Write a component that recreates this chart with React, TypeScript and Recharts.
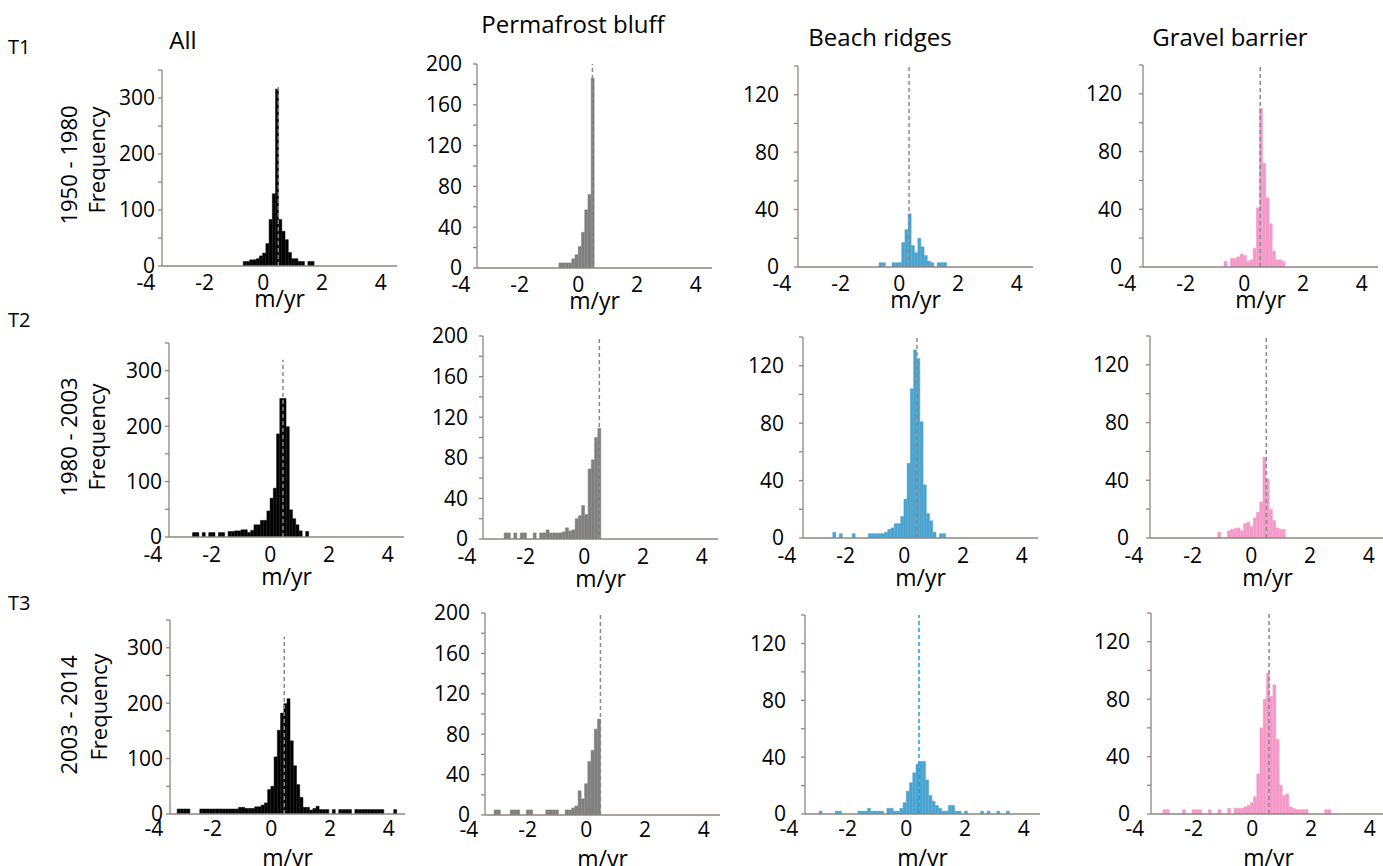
import { BarChart, Bar, XAxis, YAxis, ReferenceLine } from "recharts";

const FONT = '"Open Sans", "Noto Sans", sans-serif';
const AXIS_COLOR = "#8e8681";
const DASH_COLOR = "#8a8a8a";

// histogram bins (m/yr)
const BIN_W = 0.11;
const X_DOMAIN = [-3.45, 4.55];
const X_TICKS = [-2.5, -1.5, -0.5, 0.5, 1.5, 2.5, 3.5, 4.5];
const X_LABELS = [-4, -2, 0, 2, 4];

const COLUMN_TITLES = ["All", "Permafrost bluff", "Beach ridges", "Gravel barrier"];
const ROW_TAGS = ["T1", "T2", "T3"];
const PERIODS = ["1950 - 1980", "1980 - 2003", "2003 - 2014"];
const BAR_COLORS = ["#000000", "#7f7f7f", "#4ba3cf", "#f59ac8"];

const Y_TICKS_ALL = [0, 50, 100, 150, 200, 250, 300, 350];
const Y_LABELS_ALL = [0, 100, 200, 300];
const Y_TICKS_BLUFF = [0, 20, 40, 60, 80, 100, 120, 140, 160, 180, 200];
const Y_LABELS_BLUFF = [0, 40, 80, 120, 160, 200];
const Y_TICKS_SMALL = [0, 20, 40, 60, 80, 100, 120, 140];
const Y_LABELS_SMALL = [0, 40, 80, 120];

// mean rate (dashed line) per panel
const MEANS_T1 = [0.51, 0.48, 0.33, 0.54];
const MEANS_T2 = [0.43, 0.51, 0.43, 0.51];
const MEANS_T3 = [0.44, 0.48, 0.43, 0.57];

// T1 1950-1980: left edge of first bin + counts
const allT1Start = -0.684;
const allT1 = [8, 8, 11, 11, 13, 18, 23, 40, 83, 129, 316, 83, 62, 47, 24, 13, 13, 8, 8, 0, 8, 8];
const bluffT1Start = -0.663;
const bluffT1 = [5, 5, 5, 5, 9, 13, 21, 35, 57, 72, 186];
const beachT1Start = -0.69;
const beachT1 = [3, 3, 0, 0, 3, 3, 3, 17, 26, 37, 15, 10, 20, 14, 8, 4, 3, 0, 3, 3, 3];
const gravelT1Start = -0.693;
const gravelT1 = [4, 0, 6, 6, 7, 9, 8, 4, 5, 13, 41, 110, 72, 48, 30, 11, 5, 5, 4];

// T2 1980-2003
const allT2Start = -2.648;
const allT2 = [8, 8, 0, 8, 0, 8, 8, 0, 8, 8, 0, 10, 10, 11, 11, 13, 13, 8, 12, 22, 22, 30, 30, 47, 70, 88, 186, 250, 250, 199, 49, 33, 22, 11, 0, 10];
const bluffT2Start = -2.732;
const bluffT2 = [6, 6, 0, 6, 0, 6, 6, 0, 0, 6, 0, 6, 6, 9, 6, 6, 6, 6, 7, 11, 8, 9, 20, 23, 33, 24, 69, 78, 100, 109];
const beachT2Start = -2.435;
const beachT2 = [4, 0, 3, 0, 0, 0, 3, 0, 0, 0, 0, 3, 3, 3, 3, 3, 4, 6, 7, 10, 10, 15, 27, 52, 104, 131, 125, 81, 37, 17, 12, 4, 0, 3, 3];
const gravelT2Start = -1.145;
const gravelT2 = [4, 0, 0, 5, 6, 6.5, 7, 5, 10, 11, 8, 14, 18, 25, 56, 41, 20, 12, 7, 6, 6];

// T3 2003-2014
const allT3Start = -3.206;
const allT3 = [9, 9, 9, 9, 0, 0, 0, 9, 9, 9, 9, 9, 9, 9, 9, 9, 9, 9, 9, 12, 12, 10, 10, 10, 13, 13, 16, 20, 44, 50, 103, 151, 182, 199, 208, 132, 87, 53, 30, 12, 12, 7, 10, 14, 8, 8, 8, 0, 8, 0, 8, 8, 8, 8, 0, 8, 8, 8, 8, 8, 8, 8, 8, 8, 0, 0, 0, 8];
const bluffT3Start = -3.14;
const bluffT3 = [5, 5, 0, 0, 0, 5, 5, 5, 0, 0, 5, 5, 0, 0, 0, 0, 5, 5, 5, 5, 0, 0, 5, 5, 7, 9, 24, 16, 31, 53, 64, 85, 95];
const beachT3Start = -2.972;
const beachT3 = [2, 0, 0, 0, 0, 2, 2, 0, 0, 0, 0, 0, 2, 2, 2, 4, 2, 2, 2, 2, 0, 4, 4, 2, 2, 4, 8, 16, 22, 29, 35, 37, 37, 24, 13, 9, 6, 4, 2, 2, 6, 6, 2, 2, 0, 2, 0, 0, 0, 0, 2, 0, 2, 0, 0, 2, 0, 0, 2];
const gravelT3Start = -3.041;
const gravelT3 = [3, 3, 0, 0, 0, 0, 3, 0, 0, 3, 3, 3, 0, 0, 3, 0, 0, 3, 0, 0, 4, 0, 4, 4, 4, 5, 6, 8, 12, 28, 60, 80, 98, 82, 90, 52, 20, 13, 14, 5, 4, 3, 3, 3, 3, 0, 0, 0, 0, 0, 3, 3];

// layout (page pixels): y-axis x, plot top, x-axis baseline
const AXIS_X = [[162, 477, 798, 1143], [169, 483, 803, 1150], [170, 485, 805, 1151]];
const PLOT_TOP = [[70, 64, 66, 65], [343, 336, 337, 336], [620, 613, 615, 613]];
const PLOT_BASE = [[266, 268, 267, 267], [537, 539, 538, 538], [814, 815, 814, 814]];
const X_TICK_MARGIN = [4, 5, 2];
const MYR_BELOW = [41, 48, 52];
const Y_TICK_MARGIN = [3, 11, 15, 17];

const PLOT_W = 235;
const Y_AXIS_W = 70;
const M_TOP = 18;
const M_RIGHT = 12;
const M_BOTTOM = 12;
const X_MAIN_H = 5;

type PanelProps = {
  row: number;
  col: number;
  start: number;
  counts: number[];
  mean: number;
};

function Panel({ row, col, start, counts, mean }: PanelProps) {
  const axisX = AXIS_X[row][col];
  const top = PLOT_TOP[row][col];
  const base = PLOT_BASE[row][col];
  const plotH = base - top;
  const labelH = MYR_BELOW[row] - X_MAIN_H;
  const height = M_TOP + plotH + X_MAIN_H + labelH + M_BOTTOM;

  const yTicks = col === 0 ? Y_TICKS_ALL : col === 1 ? Y_TICKS_BLUFF : Y_TICKS_SMALL;
  const yLabels = col === 0 ? Y_LABELS_ALL : col === 1 ? Y_LABELS_BLUFF : Y_LABELS_SMALL;
  const yMax = yTicks[yTicks.length - 1];

  const data = counts.map((n, i) => ({ x: +(start + (i + 0.5) * BIN_W).toFixed(4), n }));
  const dashColor = row === 2 && col === 2 ? "#1f9fd6" : DASH_COLOR;

  return (
    <div style={{ position: "absolute", left: axisX - Y_AXIS_W, top: top - M_TOP }}>
      <BarChart
        width={Y_AXIS_W + PLOT_W + M_RIGHT}
        height={height}
        data={data}
        barCategoryGap={0}
        barGap={0}
        margin={{ top: M_TOP, right: M_RIGHT, left: 0, bottom: M_BOTTOM }}
      >
        <XAxis
          xAxisId="bins"
          dataKey="x"
          type="number"
          domain={X_DOMAIN}
          ticks={X_TICKS}
          interval={0}
          allowDataOverflow
          tick={false}
          tickSize={5}
          height={X_MAIN_H}
          axisLine={{ stroke: AXIS_COLOR, strokeWidth: 1.3 }}
          tickLine={{ stroke: AXIS_COLOR, strokeWidth: 1.3 }}
        />
        <XAxis
          xAxisId="labels"
          dataKey="x"
          type="number"
          domain={X_DOMAIN}
          ticks={X_LABELS}
          interval={0}
          allowDataOverflow
          axisLine={false}
          tickLine={false}
          tickSize={0}
          tickMargin={X_TICK_MARGIN[row]}
          height={labelH}
          tick={{ fill: "#000", fontSize: 21, fontFamily: FONT }}
          label={{ value: "m/yr", position: "insideBottom", offset: 0, fill: "#000", fontSize: 23, fontFamily: FONT }}
        />
        <YAxis
          type="number"
          domain={[0, yMax]}
          ticks={yTicks}
          interval={0}
          allowDataOverflow
          width={Y_AXIS_W}
          tickSize={4}
          tickMargin={Y_TICK_MARGIN[col]}
          axisLine={{ stroke: AXIS_COLOR, strokeWidth: 1.3 }}
          tickLine={{ stroke: AXIS_COLOR, strokeWidth: 1.3 }}
          tickFormatter={(v: number) => (yLabels.includes(v) ? String(v) : "")}
          tick={{ fill: "#000", fontSize: 21, fontFamily: FONT }}
        />
        <Bar
          xAxisId="bins"
          dataKey="n"
          fill={BAR_COLORS[col]}
          stroke={BAR_COLORS[col]}
          strokeWidth={0.5}
          isAnimationActive={false}
        />
        {col === 0 ? (
          <ReferenceLine
            xAxisId="bins"
            segment={[{ x: mean, y: 0 }, { x: mean, y: 320 }]}
            stroke={DASH_COLOR}
            strokeWidth={1.5}
            strokeDasharray="4 3"
          />
        ) : (
          <ReferenceLine
            xAxisId="bins"
            x={mean}
            stroke={dashColor}
            strokeWidth={1.5}
            strokeDasharray="4 3"
          />
        )}
      </BarChart>
    </div>
  );
}

const TITLE_POS = [[183, 40], [573, 24], [880, 37], [1230, 37]];
const TAG_Y = [47, 320, 603];
const PERIOD_POS = [[68, 165], [68, 437], [68, 715]];
const FREQ_POS = [[96, 160], [96, 437], [98, 707]];

const absText = (x: number, y: number, size: number, rotate = false): React.CSSProperties => ({
  position: "absolute",
  left: x,
  top: y,
  transform: `translate(-50%, -50%)${rotate ? " rotate(-90deg)" : ""}`,
  whiteSpace: "nowrap",
  fontFamily: FONT,
  fontSize: size,
  color: "#000",
  lineHeight: 1,
});

export default function App() {
  const rows = [
    { starts: [allT1Start, bluffT1Start, beachT1Start, gravelT1Start], counts: [allT1, bluffT1, beachT1, gravelT1], means: MEANS_T1 },
    { starts: [allT2Start, bluffT2Start, beachT2Start, gravelT2Start], counts: [allT2, bluffT2, beachT2, gravelT2], means: MEANS_T2 },
    { starts: [allT3Start, bluffT3Start, beachT3Start, gravelT3Start], counts: [allT3, bluffT3, beachT3, gravelT3], means: MEANS_T3 },
  ];

  return (
    <div style={{ position: "absolute", left: 0, top: 0, width: 1383, height: 866, background: "#fff", overflow: "hidden" }}>
      {COLUMN_TITLES.map((t, i) => (
        <div key={t} style={absText(TITLE_POS[i][0], TITLE_POS[i][1], 24)}>{t}</div>
      ))}
      {ROW_TAGS.map((t, r) => (
        <div key={t} style={{ ...absText(8, TAG_Y[r], 20), transform: "translate(0, -50%)" }}>{t}</div>
      ))}
      {PERIODS.map((p, r) => (
        <div key={p}>
          <div style={absText(PERIOD_POS[r][0], PERIOD_POS[r][1], 22, true)}>{p}</div>
          <div style={absText(FREQ_POS[r][0], FREQ_POS[r][1], 22, true)}>Frequency</div>
        </div>
      ))}
      {rows.map((r, ri) =>
        r.counts.map((c, ci) => (
          <Panel key={`${ri}-${ci}`} row={ri} col={ci} start={r.starts[ci]} counts={c} mean={r.means[ci]} />
        ))
      )}
    </div>
  );
}
